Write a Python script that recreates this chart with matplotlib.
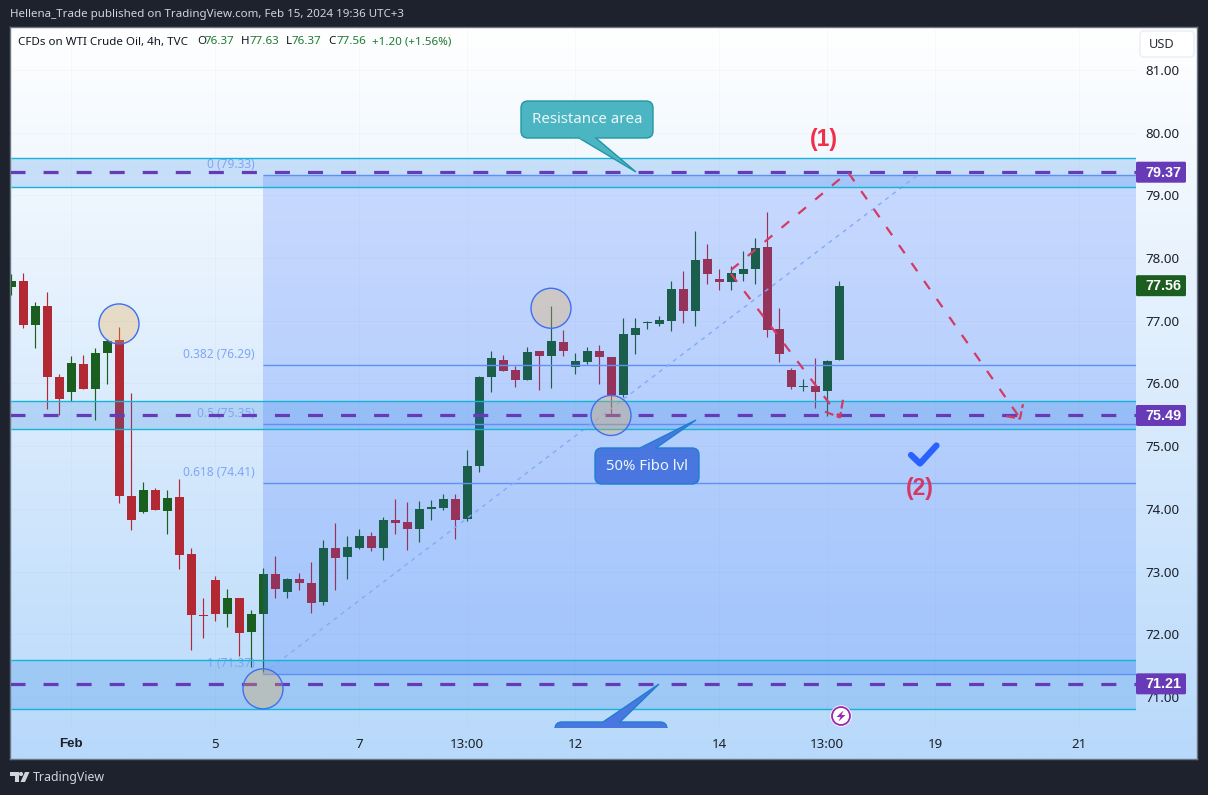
import numpy as np
import matplotlib
matplotlib.use("Agg")
import matplotlib.pyplot as plt
from matplotlib.patches import FancyBboxPatch, Polygon, Rectangle, Ellipse, Circle

plt.rcParams['font.family'] = ['Noto Sans', 'DejaVu Sans']
plt.rcParams['lines.scale_dashes'] = False
BOLD = ['Liberation Sans', 'DejaVu Sans']

# ---- data (4h bars, index 0 = swing low bar) ----
first_bar = -21
opens = [77.54,77.63,76.93,77.24,76.10,75.86,76.31,75.91,76.49,76.69,74.21,73.95,74.30,73.97,74.19,73.28,72.31,72.87,72.32,72.58,72.04,
         72.32,72.96,72.67,72.88,72.82,72.51,73.38,73.23,73.38,73.57,73.38,73.82,73.79,73.68,74.00,74.01,74.16,73.84,74.68,76.10,76.37,
         76.22,76.06,76.52,76.44,76.66,76.26,76.34,76.52,76.42,75.82,76.77,76.96,76.95,77.00,77.51,77.16,77.99,77.67,77.62,77.75,77.83,
         78.18,76.87,76.22,75.94,75.96,75.88,76.37]
highs = [77.75,77.76,77.30,77.46,76.15,76.44,76.45,76.57,76.71,76.90,75.85,74.43,74.33,74.30,74.48,73.38,72.58,72.93,72.72,72.58,72.39,
         73.06,73.25,72.90,72.98,73.15,73.50,73.77,73.57,73.68,73.63,73.87,74.16,74.11,74.13,74.14,74.24,74.24,74.94,76.12,76.52,76.45,
         76.28,76.58,76.52,77.24,76.85,76.49,76.58,76.61,76.42,77.04,77.04,77.00,77.08,77.63,77.79,78.43,78.22,77.83,77.87,78.11,78.32,
         78.74,77.20,76.25,76.07,76.41,76.37,77.63]
lows = [77.41,76.89,76.57,75.59,75.50,75.72,75.91,75.42,75.99,74.09,73.66,73.93,73.98,73.60,73.04,71.75,71.94,72.21,72.12,71.65,71.48,
        71.37,72.58,72.58,72.71,72.34,72.47,72.71,72.88,73.36,73.33,73.18,73.60,73.34,73.47,73.82,73.98,73.52,73.81,74.59,75.86,76.20,
        75.94,76.06,75.90,75.93,76.44,76.15,76.31,75.99,75.50,75.78,76.47,76.87,76.92,76.84,76.96,76.92,77.59,77.49,77.49,77.63,77.59,
        76.74,76.34,75.91,75.88,75.61,75.48,76.37]
closes = [77.63,76.93,77.24,76.10,75.75,76.33,75.91,76.49,76.68,74.21,73.82,74.30,73.98,74.17,73.26,72.31,72.29,72.32,72.58,72.02,72.32,
          72.96,72.72,72.88,72.82,72.50,73.38,73.22,73.39,73.57,73.38,73.82,73.77,73.68,74.00,74.03,74.16,73.82,74.68,76.10,76.41,76.20,
          76.06,76.50,76.44,76.68,76.52,76.36,76.52,76.42,75.82,76.79,76.89,76.98,77.01,77.51,77.16,77.97,77.75,77.62,77.76,77.83,78.16,
          76.85,76.47,75.94,75.96,75.86,76.36,77.56]

price_ticks = [81, 80, 79, 78, 77, 76, 75, 74, 73, 72, 71]
time_tick_bars = [-16, -4, 8, 17, 26, 38, 47, 56, 68]
time_tick_labels = ['Feb', '5', '7', '13:00', '12', '14', '13:00', '19', '21']

fib_levels = [79.33, 76.29, 75.35, 74.41, 71.37]
fib_ratios = ['0', '0.382', '0.5', '0.618', '1']
fib_start_bar = 0
fib_trend_end_bar = 54.6

zones = [(79.13, 79.60), (75.27, 75.72), (70.81, 71.59)]
hlines_price = [79.37, 75.49, 71.21]
tag_prices = [79.37, 77.56, 75.49, 71.21]
circle_bars = [-12, 24, 29, 0]
circle_prices = [76.95, 77.20, 75.49, 71.13]

wave_a_bars = [39, 48.75, 63.08]
wave_a_prices = [77.81, 79.37, 75.45]
wave_a_head_bars = [61.92, 63.08, 63.33]
wave_a_head_prices = [75.48, 75.44, 75.67]
wave_b_bars = [39, 48.08]
wave_b_prices = [77.75, 75.46]
wave_b_head_bars = [46.83, 48.08, 48.33]
wave_b_head_prices = [75.55, 75.46, 75.74]

# ---- scale ----
W, H = 1208, 795
L, R, T, B = 11, 1136, 29, 728
PX_PER_BAR, PX_PER_USD = 12.0, 62.7
x_at_zero, y_at_81 = 263.0, 70.0

DARK = '#1e222d'
fig = plt.figure(figsize=(W/100, H/100), dpi=100, facecolor=DARK)

# background gradient panel
bg = fig.add_axes([10/W, 1-759/H, (1197-10)/W, (759-27)/H], zorder=0)
grad = np.zeros((256, 1, 3))
t = np.linspace(0, 1, 256)
grad[:, 0, 0] = (255 - 71*t)/255
grad[:, 0, 1] = (255 - 38*t)/255
grad[:, 0, 2] = (255 - 4*t)/255
bg.imshow(grad, aspect='auto', extent=[0, 1, 0, 1], interpolation='bilinear')
bg.set_xticks([]); bg.set_yticks([])
for s in bg.spines.values():
    s.set_color('#6a7684'); s.set_linewidth(1)

# main axes
ax = fig.add_axes([L/W, 1-B/H, (R-L)/W, (B-T)/H], zorder=1)
ax.patch.set_alpha(0)
ax.set_xlim((L-x_at_zero)/PX_PER_BAR, (R-x_at_zero)/PX_PER_BAR)
ax.set_ylim(81-(B-y_at_81)/PX_PER_USD, 81+(y_at_81-T)/PX_PER_USD)
for s in ax.spines.values():
    s.set_visible(False)
ax.yaxis.tick_right()
ax.set_yticks(price_ticks)
ax.set_yticklabels([f'{v:.2f}' for v in price_ticks], fontsize=9.6, color='#1c2028')
ax.set_xticks(time_tick_bars)
ax.set_xticklabels(time_tick_labels, fontsize=9.6, color='#1c2028')
feb = ax.get_xticklabels()[0]
feb.set_family(BOLD); feb.set_fontweight('bold')
ax.tick_params(axis='both', length=0)
ax.tick_params(axis='y', pad=6.5)
ax.tick_params(axis='x', pad=7.5)
ax.grid(True, color='#2a2e39', alpha=0.025, lw=0.8)
ax.set_axisbelow(True)

# candles
o, h, l, c = map(np.array, (opens, highs, lows, closes))
xs = first_bar + np.arange(len(o))
up = c >= o
col = np.where(up, '#1a5e20', '#b22833')
ax.vlines(xs, l, h, colors=col, lw=0.85, zorder=2)
ax.bar(xs, np.maximum(np.abs(c-o), 0.02), bottom=np.minimum(o, c), width=0.75,
       color=col, linewidth=0, zorder=2.1)

# fibonacci overlay
xl, xr = ax.get_xlim()
ax.add_patch(Rectangle((fib_start_bar, fib_levels[-1]), xr-fib_start_bar, fib_levels[0]-fib_levels[-1],
                       facecolor='#2962ff', alpha=0.2, linewidth=0, zorder=3))
ax.hlines(fib_levels, fib_start_bar, xr, colors='#5f8ff7', lw=1.0, zorder=3.2)
for ratio, lvl in zip(fib_ratios, fib_levels):
    ax.annotate(f'{ratio} ({lvl:.2f})', xy=(fib_start_bar-0.67, lvl), xytext=(0, 7.5),
                textcoords='offset points', ha='right', va='center',
                fontsize=8.6, color='#7fa5f7', zorder=3.3)
ax.plot([fib_start_bar, fib_trend_end_bar], [fib_levels[-1], fib_levels[0]], color='#86aaf7', lw=1.0,
        dashes=(3.0, 3.4), zorder=3.2)

# zones
for lo, hi in zones:
    ax.add_patch(Rectangle((xl, lo), xr-xl, hi-lo, facecolor='#1e7be0', alpha=0.2, linewidth=0, zorder=3.1))
    ax.hlines([lo, hi], xl, xr, colors='#12b5d6', lw=1.0, zorder=3.3)

# horizontal dashed lines
for p in hlines_price:
    ax.plot([xl-0.05, xr], [p, p], color='#673ab7', lw=2.3, dashes=(10.8, 13.0),
            dash_capstyle='butt', zorder=4)

# circles
for b, p in zip(circle_bars, circle_prices):
    ax.add_patch(Ellipse((b, p), 40/PX_PER_BAR, 40/PX_PER_USD, facecolor='#f0ad48', alpha=0.3,
                         linewidth=0, zorder=5))
    ax.add_patch(Ellipse((b, p), 40/PX_PER_BAR, 40/PX_PER_USD, facecolor='none', edgecolor='#3b6ff5',
                         linewidth=1.0, zorder=5.1))

# wave arrows
wave_col = '#d33a64'
wkw = dict(color=wave_col, lw=1.6, dashes=(7.2, 8.6), dash_capstyle='butt', zorder=5.2)
ax.plot(wave_a_bars, wave_a_prices, **wkw)
ax.plot(wave_b_bars, wave_b_prices, **wkw)
hkw = dict(wkw); hkw['dashes'] = (6.5, 2.5)
ax.plot(wave_a_head_bars, wave_a_head_prices, **hkw)
ax.plot(wave_b_head_bars, wave_b_head_prices, **hkw)

# overlay in pixel coordinates
ov = fig.add_axes([0, 0, 1, 1], zorder=2)
ov.set_xlim(0, W); ov.set_ylim(H, 0); ov.axis('off'); ov.patch.set_alpha(0)

def price_y(p):
    return y_at_81 + (81-p)*PX_PER_USD

def callout(x0, y0, x1, y1, base, tip, text, face, edge, fs, clip=False):
    yb = y1 if y0 < tip[1] else y0
    tail = Polygon([(base[0], yb), tip, (base[1], yb)],
                   closed=True, facecolor=face, edgecolor=edge, lw=1.0, zorder=5, joinstyle='miter')
    box = FancyBboxPatch((x0, y0), x1-x0, y1-y0, boxstyle='round,pad=0,rounding_size=7',
                         facecolor=face, edgecolor=edge, lw=1.0, zorder=5.1)
    ov.add_patch(tail); ov.add_patch(box)
    lk, = ov.plot([base[0]+1, base[1]-1], [yb, yb], color=face, lw=1.6, zorder=5.2, solid_capstyle='butt')
    if clip:
        for a in (tail, box, lk):
            a.set_clip_path(ax.patch)
    if text:
        ov.text((x0+x1)/2, (y0+y1)/2, text, ha='center', va='center', color='#eef7fb', fontsize=fs, zorder=6)

callout(521, 101, 653, 138, (579, 596), (636, 172), 'Resistance area', '#4bb5c1', '#2196a8', 10.8)
callout(595, 448, 699, 484, (640, 656), (696, 420), '50% Fibo lvl', '#4a76e0', '#1e7fd0', 10.7)
callout(555, 722, 667, 760, (603, 620), (659, 684), '', '#4a76e0', '#1e7fd0', 10, clip=True)

# wave labels and check
ov.text(824, 139.5, '(1)', color='#f0304a', fontsize=16.5, fontweight='bold', family=BOLD, ha='center', va='center', zorder=6)
ov.text(920, 489, '(2)', color='#d63864', fontsize=16.5, fontweight='bold', family=BOLD, ha='center', va='center', zorder=6)
ov.plot([911, 920, 936.5], [455, 463.5, 445.5], color='#2962ff', lw=4.5, solid_capstyle='round',
        solid_joinstyle='round', zorder=6)

# lightning badge
ov.add_patch(Circle((841, 716), 10.7, facecolor='white', edgecolor='none', zorder=6))
ov.add_patch(Circle((841, 716), 9, facecolor='white', edgecolor='#9c27b0', lw=1.3, zorder=6.1))
ov.add_patch(Polygon([(843.5, 710.5), (836.5, 717), (840.5, 717), (838.5, 721.5), (845.5, 715), (841.5, 715)],
                     closed=True, facecolor='#9c27b0', edgecolor='none', zorder=6.2))

# price tags
tag_cols = ['#673ab7', '#1b5e20', '#673ab7', '#673ab7']
for p, cc in zip(tag_prices, tag_cols):
    y = price_y(p)
    ov.add_patch(FancyBboxPatch((1136, y-10.5), 50, 21, boxstyle='round,pad=0,rounding_size=1.5',
                                facecolor=cc, edgecolor='none', zorder=7))
    ov.text(1163, y+0.3, f'{p:.2f}', color='white', fontsize=10.4, fontweight='bold', family=BOLD,
            ha='center', va='center', zorder=8)

# USD button
ov.add_patch(FancyBboxPatch((1140, 31), 54, 26, boxstyle='round,pad=0,rounding_size=4',
                            facecolor='white', edgecolor='#eef0f4', lw=1.2, zorder=7))
ov.text(1161.5, 44, 'USD', color='#2a2e39', fontsize=9.2, ha='center', va='center', zorder=8)

# header / legend text
ov.text(10, 15, 'Hellena_Trade published on TradingView.com, Feb 15, 2024 19:36 UTC+3', color='#d1d4dc',
        fontsize=8.3, ha='left', va='center')
lg_dark, lg_green = '#131722', '#1f7a35'
for xp, s, cc in [(18, 'CFDs on WTI Crude Oil, 4h, TVC', lg_dark), (197, 'O', lg_dark), (204.5, f'{opens[-1]:.2f}', lg_green),
                  (241, 'H', lg_dark), (249.5, f'{highs[-1]:.2f}', lg_green), (286, 'L', lg_dark), (292, f'{lows[-1]:.2f}', lg_green),
                  (328, 'C', lg_dark), (336.5, f'{closes[-1]:.2f}', lg_green), (372.5, '+1.20 (+1.56%)', lg_green)]:
    ov.text(xp, 42, s, color=cc, fontsize=8.35, ha='left', va='center', zorder=8)

# TradingView logo
logo = '#d1d4dc'
ov.add_patch(Polygon([(10, 772), (18.5, 772), (18.5, 782), (14.5, 782), (14.5, 776), (10, 776)], closed=True, facecolor=logo, edgecolor='none'))
ov.add_patch(Circle((21, 774), 2.1, facecolor=logo, edgecolor='none'))
ov.add_patch(Polygon([(25, 772), (29.5, 772), (25, 782), (20.5, 782)], closed=True, facecolor=logo, edgecolor='none'))
ov.text(33, 777, 'TradingView', color=logo, fontsize=8.9, ha='left', va='center')

fig.savefig('out.png', dpi=100, facecolor=DARK)
